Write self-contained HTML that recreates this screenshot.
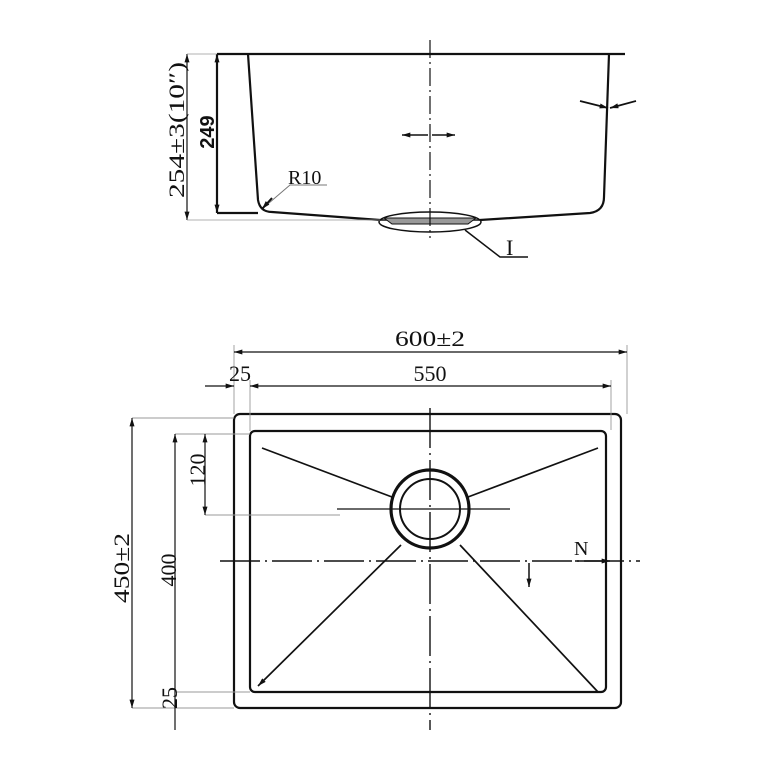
<!DOCTYPE html>
<html><head><meta charset="utf-8"><style>html,body{margin:0;padding:0;background:#fff}svg{display:block}text{font-family:"Liberation Serif","Noto Serif CJK SC",serif;fill:#111}</style></head>
<body>
<svg width="768" height="768" viewBox="0 0 768 768" xmlns="http://www.w3.org/2000/svg">
<defs>
<marker id="a" viewBox="0 0 10 6" refX="10" refY="3" markerWidth="12" markerHeight="5" orient="auto-start-reverse" markerUnits="userSpaceOnUse"><path d="M0,0L10,3L0,6z" fill="#111"/></marker>
</defs>
<!-- SIDE VIEW -->
<g stroke="#111" fill="none">
<line x1="217" y1="54" x2="625" y2="54" stroke-width="2.2"/>
<path d="M248,54 L258,200 Q260,212 272,212 L380,220 M480,220 L590,213 Q604,211 604,197 L609,54" stroke-width="2.2"/>
<line x1="380" y1="220" x2="480" y2="220" stroke-width="1.5"/>
<path d="M384,218 L476,218 L468,224 L392,224 Z" fill="#999" stroke-width="1"/>
<ellipse cx="430" cy="222" rx="51" ry="10" stroke-width="1.5"/>
<polyline points="465,230 500,257 528,257" stroke-width="1.5"/>
<line x1="430" y1="40" x2="430" y2="238" stroke-width="1.2" stroke-dasharray="18,4,2,4"/>
<line x1="217" y1="54" x2="217" y2="213" stroke-width="2.2" marker-start="url(#a)" marker-end="url(#a)"/>
<line x1="217" y1="213" x2="258" y2="213" stroke-width="2.2"/>
<line x1="187" y1="54" x2="187" y2="220" stroke-width="1.2" marker-start="url(#a)" marker-end="url(#a)"/>
<line x1="187" y1="54" x2="217" y2="54" stroke-width="0.8" stroke="#999"/>
<line x1="187" y1="220" x2="380" y2="220" stroke-width="0.8" stroke="#999"/>
<polyline points="327,185 290,185 262,209" stroke-width="1" stroke="#777"/>
<line x1="272" y1="198" x2="262" y2="209" stroke-width="2" marker-end="url(#a)"/>
<line x1="580" y1="101" x2="608" y2="108" stroke-width="1.8" marker-end="url(#a)"/>
<line x1="636" y1="101" x2="610" y2="108" stroke-width="1.8" marker-end="url(#a)"/>
<line x1="402" y1="135" x2="428" y2="135" stroke-width="1.5" marker-start="url(#a)"/>
<line x1="432" y1="135" x2="455" y2="135" stroke-width="1.5" marker-end="url(#a)"/>
</g>
<text font-size="22" text-anchor="middle" textLength="136" lengthAdjust="spacingAndGlyphs" transform="translate(184,130) rotate(-90)">254±3(10″)</text>
<text font-size="20" font-weight="bold" text-anchor="middle" transform="translate(214,132) rotate(-90)" style="font-family:'Liberation Sans',sans-serif">249</text>
<text x="288" y="184" font-size="20">R10</text>
<text x="506" y="255" font-size="22">I</text>

<!-- TOP VIEW -->
<g stroke="#111" fill="none">
<rect x="234" y="414" width="387" height="294" rx="6" stroke-width="2.2"/>
<rect x="250" y="431" width="356" height="261" rx="5" stroke-width="2.2"/>
<circle cx="430" cy="509" r="39" stroke-width="3.2"/>
<circle cx="430" cy="509" r="30" stroke-width="2"/>
<line x1="262" y1="448" x2="392" y2="497" stroke-width="1.7"/>
<line x1="598" y1="448" x2="468" y2="497" stroke-width="1.7"/>
<line x1="401" y1="545" x2="258" y2="686" stroke-width="1.7" marker-end="url(#a)"/>
<line x1="460" y1="545" x2="598" y2="692" stroke-width="1.7"/>
<line x1="430" y1="408" x2="430" y2="730" stroke-width="1.4" stroke-dasharray="40,5,2,5"/>
<line x1="220" y1="561" x2="640" y2="561" stroke-width="1.4" stroke-dasharray="40,5,2,5"/>
<line x1="337" y1="509" x2="510" y2="509" stroke-width="1.2"/>
<line x1="575" y1="561" x2="610" y2="561" stroke-width="1.5" marker-end="url(#a)"/>
<line x1="529" y1="563" x2="529" y2="587" stroke-width="1.5" marker-end="url(#a)"/>
<g stroke="#999" stroke-width="0.9">
<line x1="234" y1="345" x2="234" y2="414"/><line x1="627" y1="345" x2="627" y2="414"/>
<line x1="250" y1="380" x2="250" y2="431"/><line x1="611" y1="380" x2="611" y2="430"/>
<line x1="132" y1="418" x2="234" y2="418"/><line x1="132" y1="708" x2="234" y2="708"/>
<line x1="175" y1="434" x2="250" y2="434"/><line x1="175" y1="692" x2="250" y2="692"/>
<line x1="205" y1="515" x2="340" y2="515"/>
</g>
<line x1="234" y1="352" x2="627" y2="352" stroke-width="1.2" marker-start="url(#a)" marker-end="url(#a)"/>
<line x1="205" y1="386" x2="234" y2="386" stroke-width="1.2" marker-end="url(#a)"/>
<line x1="250" y1="386" x2="611" y2="386" stroke-width="1.2" marker-start="url(#a)" marker-end="url(#a)"/>
<line x1="132" y1="418" x2="132" y2="708" stroke-width="1.2" marker-start="url(#a)" marker-end="url(#a)"/>
<line x1="175" y1="434" x2="175" y2="692" stroke-width="1.2" marker-start="url(#a)"/>
<line x1="175" y1="692" x2="175" y2="730" stroke-width="1.2"/>
<line x1="205" y1="434" x2="205" y2="515" stroke-width="1.2" marker-start="url(#a)" marker-end="url(#a)"/>
</g>
<text x="430" y="346" font-size="22" text-anchor="middle" textLength="70" lengthAdjust="spacingAndGlyphs">600±2</text>
<text x="229" y="381" font-size="22">25</text>
<text x="430" y="381" font-size="22" text-anchor="middle">550</text>
<text x="574" y="555" font-size="20">N</text>
<text font-size="22" text-anchor="middle" textLength="70" lengthAdjust="spacingAndGlyphs" transform="translate(129,568) rotate(-90)">450±2</text>
<text font-size="22" text-anchor="middle" transform="translate(176,570) rotate(-90)">400</text>
<text font-size="22" text-anchor="middle" transform="translate(205,470) rotate(-90)">120</text>
<text font-size="22" text-anchor="middle" transform="translate(177,698) rotate(-90)">25</text>
</svg>
</body></html>
